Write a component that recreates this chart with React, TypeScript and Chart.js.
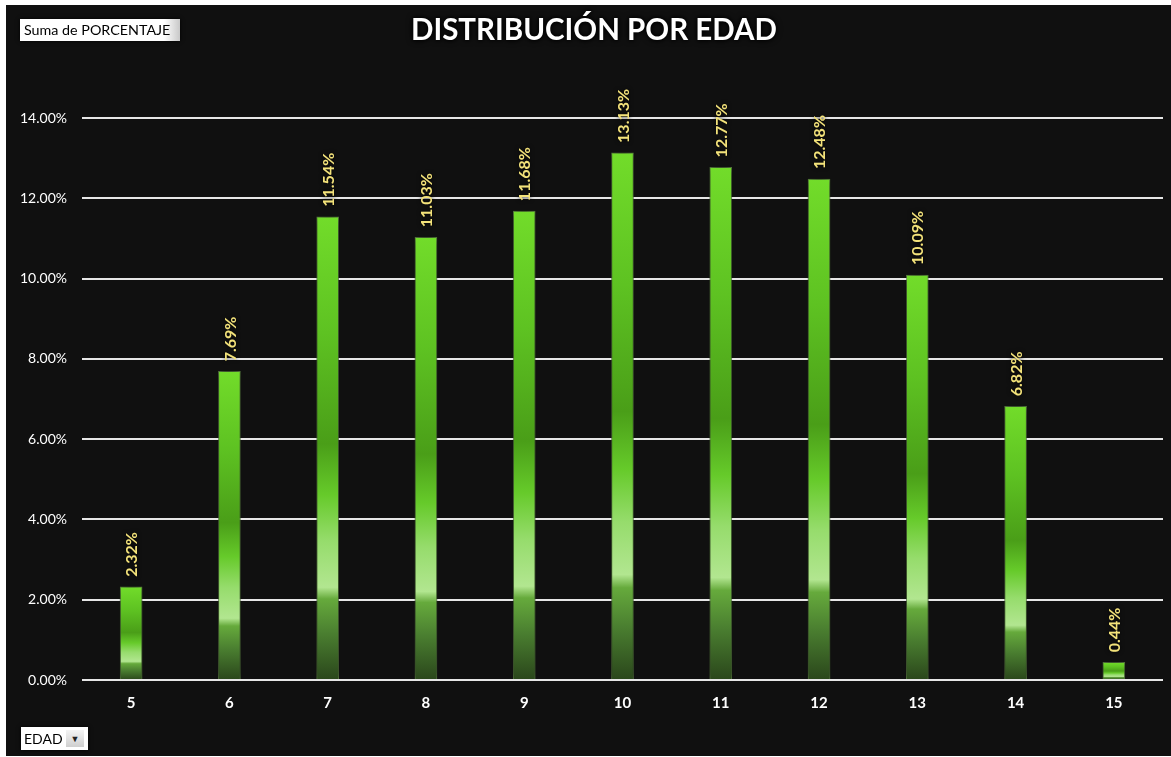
import React, { useEffect, useRef } from "react";
import { Chart, registerables } from "chart.js";

Chart.register(...registerables);

const ages = ["5", "6", "7", "8", "9", "10", "11", "12", "13", "14", "15"];
const percentages = [2.32, 7.69, 11.54, 11.03, 11.68, 13.13, 12.77, 12.48, 10.09, 6.82, 0.44];
const yTicks = [0, 2, 4, 6, 8, 10, 12, 14];
const titleText = "DISTRIBUCIÓN POR EDAD";
const valueFieldLabel = "Suma de PORCENTAJE";
const axisFieldLabel = "EDAD";

const FONT = "Lato, 'Open Sans', sans-serif";

const barLabelPlugin = {
  id: "barLabels",
  afterDatasetsDraw(chart: any) {
    const ctx = chart.ctx;
    const meta = chart.getDatasetMeta(0);
    const data = chart.data.datasets[0].data as number[];
    ctx.save();
    ctx.font = `bold 16px ${FONT}`;
    ctx.fillStyle = "#f3e27a";
    ctx.textAlign = "left";
    ctx.textBaseline = "middle";
    ctx.shadowColor = "rgba(0,0,0,0.9)";
    ctx.shadowBlur = 4;
    meta.data.forEach((el: any, i: number) => {
      ctx.save();
      ctx.translate(el.x, el.y - 10);
      ctx.rotate(-Math.PI / 2);
      ctx.fillText(data[i].toFixed(2) + "%", 0, 1);
      ctx.restore();
    });
    ctx.restore();
  },
};

const shadowPlugin = {
  id: "shadows",
  beforeDatasetsDraw(chart: any) {
    chart.ctx.save();
    chart.ctx.shadowColor = "rgba(0,0,0,0.9)";
    chart.ctx.shadowBlur = 8;
  },
  afterDatasetsDraw(chart: any) {
    chart.ctx.restore();
  },
};

function barGradient(context: any) {
  const chart = context.chart;
  const y = chart.scales.y;
  if (!y || context.type !== "data") return "#5ec422";
  const v = context.parsed ? context.parsed.y : 0;
  const top = y.getPixelForValue(v);
  const bottom = y.getPixelForValue(0);
  if (!isFinite(top) || !isFinite(bottom) || bottom - top < 1) return "#5ec422";
  const g = chart.ctx.createLinearGradient(0, top, 0, bottom);
  g.addColorStop(0, "#72dc2a");
  g.addColorStop(0.25, "#5ec222");
  g.addColorStop(0.49, "#4a9e18");
  g.addColorStop(0.6, "#66ca2a");
  g.addColorStop(0.7, "#96dc6c");
  g.addColorStop(0.8, "#b2e690");
  g.addColorStop(0.825, "#66aa3c");
  g.addColorStop(0.9, "#4a7e30");
  g.addColorStop(1, "#2a461b");
  return g;
}

export default function App() {
  const canvasRef = useRef<HTMLCanvasElement | null>(null);

  useEffect(() => {
    document.body.style.margin = "0";
    const chart = new Chart(canvasRef.current as HTMLCanvasElement, {
      type: "bar",
      data: {
        labels: ages,
        datasets: [
          {
            data: percentages,
            backgroundColor: barGradient,
            borderColor: "rgba(170,240,120,0.55)",
            borderWidth: 1,
            borderSkipped: "bottom",
            barThickness: 22,
          },
        ],
      },
      options: {
        animation: false,
        responsive: false,
        maintainAspectRatio: false,
        layout: { padding: { top: 118, right: 8, bottom: 31, left: 0 } },
        plugins: {
          legend: { display: false },
          tooltip: { enabled: false },
          title: { display: false },
        },
        scales: {
          x: {
            grid: { display: false, drawTicks: false },
            border: { display: false },
            ticks: {
              color: "#ffffff",
              font: { family: FONT, size: 15, weight: "bold" },
              padding: 14,
            },
          },
          y: {
            min: 0,
            max: 14,
            afterFit(scale: any) {
              scale.width = 82;
            },
            afterBuildTicks(scale: any) {
              scale.ticks = yTicks.map((v) => ({ value: v }));
            },
            grid: {
              color: "#e6e6e6",
              lineWidth: 2,
              drawTicks: false,
            },
            border: { display: false },
            ticks: {
              color: "#ffffff",
              font: { family: FONT, size: 14 },
              padding: 15,
              callback: (v: any) => Number(v).toFixed(2) + "%",
            },
          },
        },
      },
      plugins: [shadowPlugin, barLabelPlugin],
    } as any);
    return () => chart.destroy();
  }, []);

  return (
    <div
      style={{
        position: "absolute",
        left: 0,
        top: 0,
        width: 1171,
        height: 757,
        background: "#ffffff",
        overflow: "hidden",
      }}
    >
      <div
        style={{
          position: "absolute",
          left: 6,
          top: 5,
          width: 1165,
          height: 751,
          background: "#101010",
        }}
      />
      <canvas
        ref={canvasRef}
        width={1171}
        height={757}
        style={{ position: "absolute", left: 0, top: 0, width: 1171, height: 757 }}
      />
      <div
        style={{
          position: "absolute",
          left: 594,
          top: 10,
          transform: "translateX(-50%)",
          color: "#ffffff",
          fontFamily: FONT,
          fontWeight: "bold",
          fontSize: 29.5,
          lineHeight: "38px",
          whiteSpace: "nowrap",
          textShadow: "0 0 4px #000, 0 0 6px #000",
        }}
      >
        {titleText}
      </div>
      <div
        style={{
          position: "absolute",
          left: 20,
          top: 19,
          width: 160,
          height: 22,
          background: "linear-gradient(to right, #ffffff 0%, #ffffff 90%, #c8c8c8 100%)",
          color: "#000000",
          fontFamily: FONT,
          fontSize: 14.3,
          lineHeight: "22px",
          paddingLeft: 4,
          boxSizing: "border-box",
          whiteSpace: "nowrap",
          boxShadow: "0 0 4px #000",
        }}
      >
        {valueFieldLabel}
      </div>
      <div
        style={{
          position: "absolute",
          left: 21,
          top: 727,
          width: 67,
          height: 23,
          background: "#ffffff",
          color: "#000000",
          fontFamily: FONT,
          fontSize: 14,
          lineHeight: "23px",
          paddingLeft: 3,
          boxSizing: "border-box",
          whiteSpace: "nowrap",
          boxShadow: "0 0 4px #000",
        }}
      >
        {axisFieldLabel}
        <span
          style={{
            position: "absolute",
            left: 45,
            top: 3,
            width: 18,
            height: 17,
            background: "linear-gradient(#f4f4f4, #cfcfcf)",
            fontSize: 9,
            lineHeight: "17px",
            textAlign: "center",
            color: "#222",
          }}
        >
          ▼
        </span>
      </div>
    </div>
  );
}
